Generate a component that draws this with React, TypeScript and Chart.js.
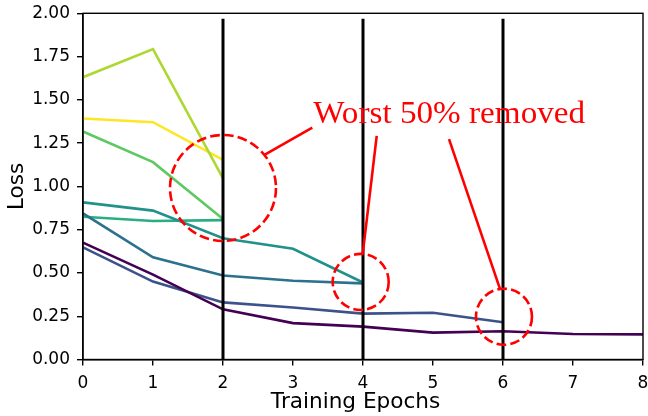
import { useEffect, useRef } from "react";
import { Chart, registerables } from "chart.js";

Chart.register(...registerables);

// ---- data ----
const epochs = [0, 1, 2, 3, 4, 5, 6, 7, 8];

const lossRun1 = [0.675, 0.49, 0.29, 0.21, 0.19, 0.155, 0.163, 0.147, 0.145];
const lossRun2 = [0.648, 0.45, 0.33, 0.30, 0.265, 0.27, 0.215];
const lossRun3 = [0.844, 0.59, 0.485, 0.455, 0.44];
const lossRun4 = [0.908, 0.86, 0.70, 0.64, 0.445];
const lossRun5 = [0.825, 0.80, 0.805];
const lossRun6 = [1.317, 1.14, 0.812];
const lossRun7 = [1.631, 1.793, 1.047];
const lossRun8 = [1.392, 1.371, 1.153];

const runSeries = [lossRun1, lossRun2, lossRun3, lossRun4, lossRun5, lossRun6, lossRun7, lossRun8];
const runColors = ["#440154", "#3b528b", "#2c728e", "#21918c", "#28ae80", "#5ec962", "#add82f", "#fde725"];

const removalEpochs = [2, 4, 6];
const annotationText = "Worst 50% removed";
const xTitle = "Training Epochs";
const yTitle = "Loss";

export default function App() {
  const canvasRef = useRef<HTMLCanvasElement | null>(null);

  useEffect(() => {
    const canvas = canvasRef.current;
    if (!canvas) return;

    const overlay = {
      id: "overlay",
      afterDatasetsDraw(chart: any) {
        const { ctx, chartArea, scales } = chart;
        const x = scales.x;
        const y = scales.y;
        ctx.save();
        // vertical removal lines
        ctx.strokeStyle = "#000";
        ctx.lineWidth = 3;
        for (const e of removalEpochs) {
          const px = x.getPixelForValue(e);
          ctx.beginPath();
          ctx.moveTo(px, y.getPixelForValue(0));
          ctx.lineTo(px, y.getPixelForValue(1.968));
          ctx.stroke();
        }
        // dashed circles
        const circles = [
          { cx: 2.0, cy: 0.991, rx: 0.757, ry: 0.306 },
          { cx: 3.967, cy: 0.448, rx: 0.4, ry: 0.162 },
          { cx: 6.014, cy: 0.247, rx: 0.4, ry: 0.162 },
        ];
        ctx.strokeStyle = "#ff0000";
        ctx.lineWidth = 2.6;
        ctx.setLineDash([9.7, 4.2]);
        for (const c of circles) {
          const cx = x.getPixelForValue(c.cx);
          const cy = y.getPixelForValue(c.cy);
          const rx = x.getPixelForValue(c.cx + c.rx) - cx;
          const ry = cy - y.getPixelForValue(c.cy + c.ry);
          ctx.beginPath();
          ctx.ellipse(cx, cy, rx, ry, 0, 0, Math.PI * 2);
          ctx.stroke();
        }
        ctx.setLineDash([]);
        // pointer lines
        const pointers = [
          [3.276, 1.34, 2.586, 1.18],
          [4.196, 1.292, 3.996, 0.61],
          [5.229, 1.273, 5.957, 0.408],
        ];
        for (const p of pointers) {
          ctx.beginPath();
          ctx.moveTo(x.getPixelForValue(p[0]), y.getPixelForValue(p[1]));
          ctx.lineTo(x.getPixelForValue(p[2]), y.getPixelForValue(p[3]));
          ctx.stroke();
        }
        // annotation text (stretched to match the wider serif of the original)
        ctx.fillStyle = "#ff0000";
        ctx.font = '32px "Liberation Serif"';
        ctx.textAlign = "center";
        ctx.textBaseline = "alphabetic";
        const tw = ctx.measureText(annotationText).width;
        const targetW = x.getPixelForValue(7.174) - x.getPixelForValue(3.288);
        const sx = targetW / tw;
        ctx.translate(x.getPixelForValue(5.231), y.getPixelForValue(1.365));
        ctx.scale(sx, 1);
        ctx.fillText(annotationText, 0, 0);
        ctx.setTransform(1, 0, 0, 1, 0, 0);
        // full box spines
        ctx.strokeStyle = "#000";
        ctx.lineWidth = 1.4;
        ctx.strokeRect(chartArea.left, chartArea.top, chartArea.right - chartArea.left, chartArea.bottom - chartArea.top);
        // x axis title
        ctx.fillStyle = "#000";
        ctx.font = '21.6px "DejaVu Sans"';
        ctx.textAlign = "center";
        ctx.textBaseline = "alphabetic";
        ctx.fillText(xTitle, x.getPixelForValue(3.894), chartArea.bottom + 48);
        ctx.restore();
      },
    };

    const datasets = runSeries.map((s, i) => ({
      label: `run ${i + 1}`,
      data: s.map((v, j) => ({ x: epochs[j], y: v })),
      borderColor: runColors[i],
      backgroundColor: runColors[i],
      borderWidth: 2.6,
      pointRadius: 0,
      tension: 0,
      fill: false,
    }));

    const tickFont = { family: "DejaVu Sans", size: 17 };
    const titleFont = { family: "DejaVu Sans", size: 21.5, lineHeight: 1 };

    const chart = new Chart(canvas, {
      type: "line",
      data: { datasets },
      options: {
        responsive: false,
        animation: false,
        events: [],
        layout: { padding: { top: 13.3, right: 5, left: 0, bottom: 0 } },
        plugins: { legend: { display: false }, tooltip: { enabled: false } },
        scales: {
          x: {
            type: "linear",
            min: 0,
            max: 8,
            ticks: { stepSize: 1, font: tickFont, color: "#000", padding: 8, maxRotation: 0 },
            grid: { drawOnChartArea: false, drawTicks: true, tickLength: 6, color: "#000", lineWidth: 1.4 },
            border: { display: true, color: "#000", width: 1.4 },
            title: { display: false, text: xTitle },
            afterFit(s: any) {
              s.height = 56.5;
              s.paddingLeft = 0;
              s.paddingRight = 0;
            },
          },
          y: {
            type: "linear",
            min: 0,
            max: 2,
            ticks: {
              stepSize: 0.25,
              font: tickFont,
              color: "#000",
              padding: 7,
              callback: (v: any) => Number(v).toFixed(2),
            },
            grid: { drawOnChartArea: false, drawTicks: true, tickLength: 6, color: "#000", lineWidth: 1.4 },
            border: { display: true, color: "#000", width: 1.4 },
            title: { display: true, text: yTitle, font: titleFont, color: "#000", padding: { top: 7, bottom: 0 } },
            afterFit(s: any) {
              s.width = 83;
              s.paddingTop = 0;
              s.paddingBottom = 0;
            },
          },
        },
      },
      plugins: [overlay],
    });

    return () => chart.destroy();
  }, []);

  return (
    <div style={{ position: "absolute", left: 0, top: 0, width: 648, height: 416, background: "#fff" }}>
      <canvas ref={canvasRef} width={648} height={416} />
    </div>
  );
}
